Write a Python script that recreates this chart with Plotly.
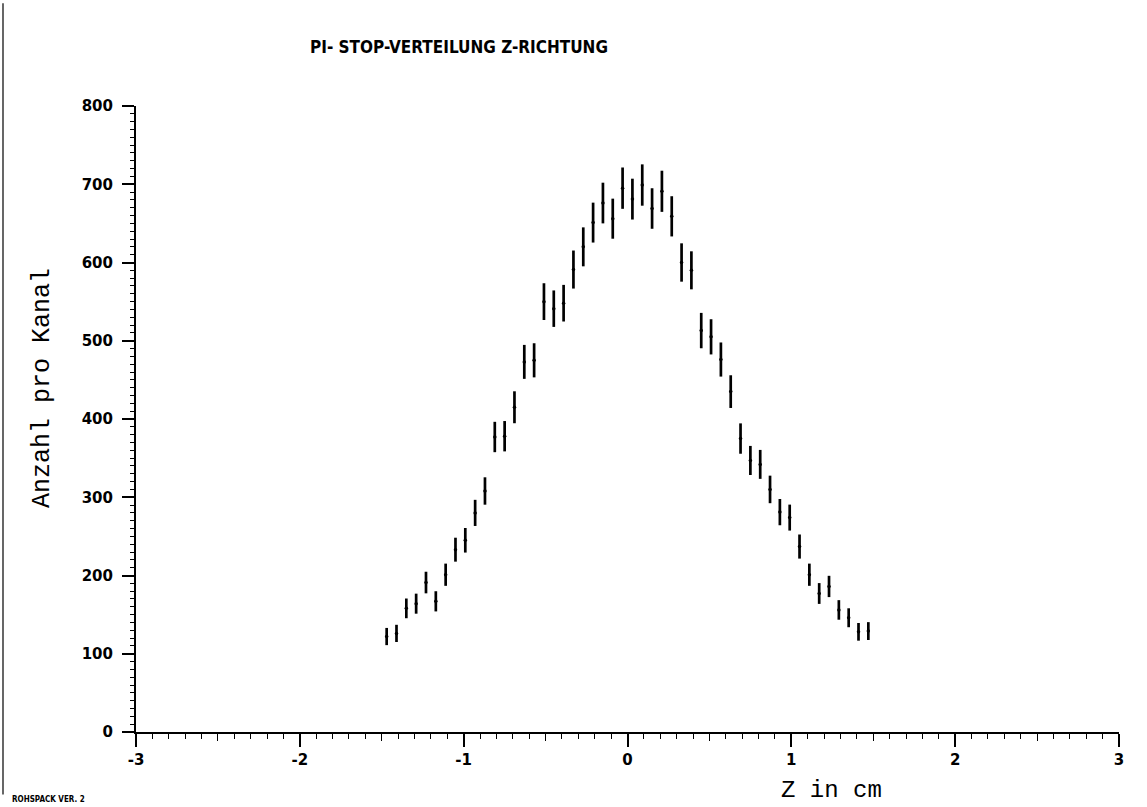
import plotly.graph_objects as go

# Channel centres (cm)
z_cm = [-1.47, -1.41, -1.35, -1.29, -1.23, -1.17, -1.11, -1.05, -0.99, -0.93,
        -0.87, -0.81, -0.75, -0.69, -0.63, -0.57, -0.51, -0.45, -0.39, -0.33,
        -0.27, -0.21, -0.15, -0.09, -0.03, 0.03, 0.09, 0.15, 0.21, 0.27,
        0.33, 0.39, 0.45, 0.51, 0.57, 0.63, 0.69, 0.75, 0.81, 0.87,
        0.93, 0.99, 1.05, 1.11, 1.17, 1.23, 1.29, 1.35, 1.41, 1.47]

# Counts per channel
counts = [122, 126, 158, 164, 191, 167, 201, 233, 245, 280,
          308, 377, 378, 415, 473, 475, 550, 541, 548, 591,
          620, 651, 676, 656, 695, 681, 699, 669, 691, 659,
          600, 590, 513, 505, 476, 435, 375, 347, 342, 310,
          281, 274, 237, 201, 177, 186, 156, 146, 128, 129]

# Error bar half-lengths
errors = [11, 11, 12.6, 12.8, 13.8, 12.9, 14.2, 15.3, 15.7, 16.7,
          17.5, 19.4, 19.4, 20.4, 21.7, 21.8, 23.5, 23.3, 23.4, 24.3,
          24.9, 25.5, 26.0, 25.6, 26.4, 26.1, 26.4, 25.9, 26.3, 25.7,
          24.5, 24.3, 22.6, 22.5, 21.8, 20.9, 19.4, 18.6, 18.5, 17.6,
          16.8, 16.6, 15.4, 14.2, 13.3, 13.6, 12.5, 12.1, 11.3, 11.4]

x_ticks = [-3, -2, -1, 0, 1, 2, 3]
x_half_ticks = [-2.5, -1.5, -0.5, 0.5, 1.5, 2.5]
y_ticks = [0, 100, 200, 300, 400, 500, 600, 700, 800]

title_text = "PI- STOP-VERTEILUNG Z-RICHTUNG"
x_title = "Z in cm"
y_title = "Anzahl pro Kanal"
footer = "ROHSPACK VER. 2"

fig = go.Figure()
fig.add_trace(go.Scatter(
    x=z_cm, y=counts, mode="markers",
    marker=dict(color="black", size=3.5),
    error_y=dict(type="data", array=errors, visible=True,
                 color="black", thickness=2.7, width=0),
    showlegend=False,
))
# invisible trace for the half-unit tick axis
fig.add_trace(go.Scatter(x=[-3, 3], y=[0, 0], xaxis="x2", mode="markers",
                         marker=dict(opacity=0), showlegend=False, hoverinfo="skip"))

tick_font = dict(family="DejaVu Sans", size=15, color="black", weight="bold")
mono = "Liberation Mono"

fig.update_layout(
    width=1147, height=807,
    margin=dict(l=136, r=28, t=106, b=75),
    paper_bgcolor="white", plot_bgcolor="white",
    xaxis=dict(
        range=[-3, 3], tickvals=x_ticks, ticktext=[str(v) for v in x_ticks],
        showgrid=False, zeroline=False,
        showline=True, linecolor="black", linewidth=2,
        ticks="outside", ticklen=13, tickwidth=1.6, tickcolor="black",
        minor=dict(dtick=0.1, tick0=0, ticks="outside", ticklen=5, tickwidth=1.3, tickcolor="black"),
        tickfont=tick_font,
    ),
    xaxis2=dict(
        range=[-3, 3], overlaying="x", side="bottom", anchor="y",
        tickvals=x_half_ticks, showticklabels=False,
        ticks="outside", ticklen=8, tickwidth=1.4, tickcolor="black",
        showgrid=False, zeroline=False, showline=False,
    ),
    yaxis=dict(
        range=[0, 800], tickvals=y_ticks,
        showgrid=False, zeroline=False,
        showline=True, linecolor="black", linewidth=2,
        ticks="outside", ticklen=12, tickwidth=1.6, tickcolor="black",
        ticklabelstandoff=6,
        minor=dict(dtick=10, tick0=0, ticks="outside", ticklen=4, tickwidth=1.2, tickcolor="black"),
        tickfont=tick_font,
    ),
    annotations=[
        dict(text=title_text, xref="paper", yref="paper", x=0.3286, y=1.094,
             showarrow=False, xanchor="center", yanchor="middle",
             font=dict(family="DejaVu Sans Condensed", size=17, color="black", weight="bold")),
        dict(text=y_title, xref="paper", yref="paper", x=-0.0956, y=0.5495,
             showarrow=False, textangle=-90, xanchor="center", yanchor="middle",
             font=dict(family=mono, size=25, color="black")),
        dict(text=x_title, xref="paper", yref="paper", x=0.708, y=-0.0927,
             showarrow=False, xanchor="center", yanchor="middle",
             font=dict(family=mono, size=24, color="black")),
        dict(text=footer, xref="paper", yref="paper", x=-0.0895, y=-0.1086,
             showarrow=False, xanchor="center", yanchor="middle",
             font=dict(family="DejaVu Sans Condensed", size=8, color="black", weight="bold")),
    ],
    shapes=[
        dict(type="line", xref="paper", yref="paper",
             x0=-0.1353, x1=-0.1353, y0=1.164, y1=-0.10,
             line=dict(color="black", width=1.2)),
    ],
)

fig.write_html("out.html")
